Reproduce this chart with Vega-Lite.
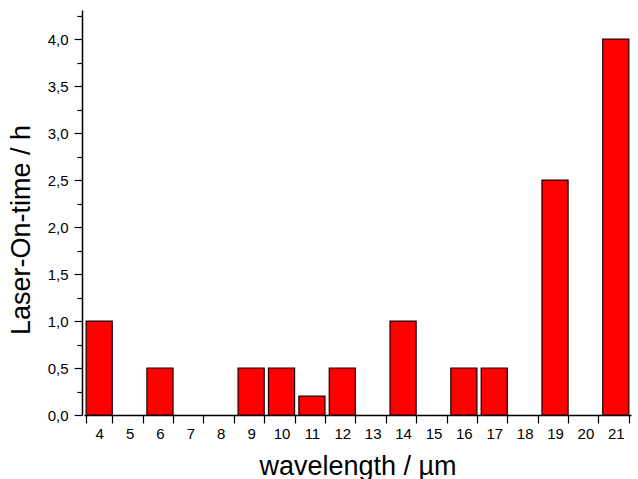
{
  "$schema": "https://vega.github.io/schema/vega-lite/v6.json",
  "autosize": "none",
  "width": 547,
  "height": 405,
  "padding": {"left": 84, "top": 10, "right": 7, "bottom": 64},
  "background": "white",
  "config": {
    "view": {"stroke": null},
    "font": "Liberation Sans",
    "axis": {"domainColor": "black", "tickColor": "black", "labelColor": "black", "titleColor": "black", "grid": false, "labelFont": "Liberation Sans", "titleFont": "Liberation Sans", "titleFontWeight": "normal", "domainWidth": 1.5, "tickWidth": 1.2, "zindex": 1}
  },
  "data": {
    "values": [
      {"wavelength": 4, "time": 1.0},
      {"wavelength": 5, "time": 0},
      {"wavelength": 6, "time": 0.5},
      {"wavelength": 7, "time": 0},
      {"wavelength": 8, "time": 0},
      {"wavelength": 9, "time": 0.5},
      {"wavelength": 10, "time": 0.5},
      {"wavelength": 11, "time": 0.2},
      {"wavelength": 12, "time": 0.5},
      {"wavelength": 13, "time": 0},
      {"wavelength": 14, "time": 1.0},
      {"wavelength": 15, "time": 0},
      {"wavelength": 16, "time": 0.5},
      {"wavelength": 17, "time": 0.5},
      {"wavelength": 18, "time": 0},
      {"wavelength": 19, "time": 2.5},
      {"wavelength": 20, "time": 0},
      {"wavelength": 21, "time": 4.0}
    ]
  },
  "mark": {"type": "bar", "fill": "#FF0000", "stroke": "#1a0000", "strokeWidth": 1.2},
  "encoding": {
    "x": {
      "field": "wavelength",
      "type": "ordinal",
      "sort": null,
      "scale": {"paddingInner": 0.14, "paddingOuter": 0.07},
      "axis": {
        "title": "wavelength / µm",
        "titleFontSize": 27,
        "titlePadding": 12,
        "labelAngle": 0,
        "labelFontSize": 15,
        "labelPadding": 3,
        "tickBand": "extent",
        "tickSize": 8
      }
    },
    "y": {
      "field": "time",
      "type": "quantitative",
      "scale": {"domain": [0, 4.31], "nice": false},
      "axis": {
        "title": "Laser-On-time / h",
        "titleFontSize": 27,
        "titleX": -47,
        "titleY": 219.5,
        "offset": 2,
        "values": [0, 0.25, 0.5, 0.75, 1, 1.25, 1.5, 1.75, 2, 2.25, 2.5, 2.75, 3, 3.25, 3.5, 3.75, 4, 4.25],
        "labelExpr": "(datum.value * 2) % 1 == 0 ? replace(format(datum.value, '.1f'), '.', ',') : ''",
        "labelFontSize": 15,
        "labelPadding": 6,
        "tickSize": {"condition": {"test": "(datum.value * 2) % 1 == 0", "value": 8}, "value": 5}
      }
    },
    "strokeOpacity": {"condition": {"test": "datum.time == 0", "value": 0}, "value": 1}
  }
}
